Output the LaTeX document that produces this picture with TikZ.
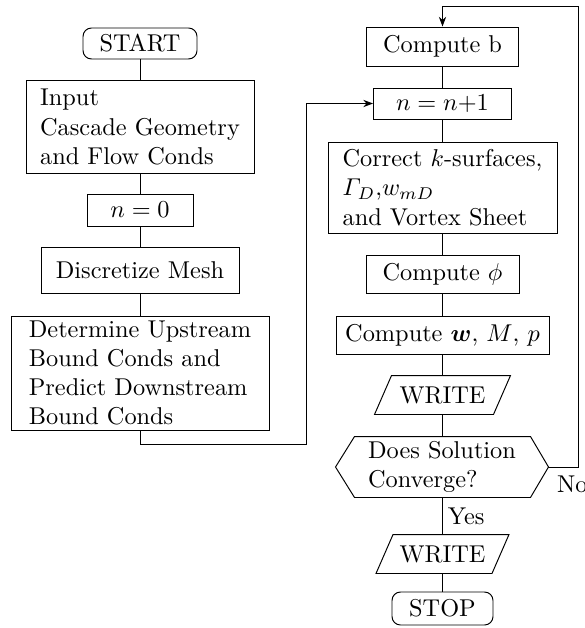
\documentclass[tikz,border=0pt]{standalone}
\usepackage{amsmath,bm}
\usetikzlibrary{arrows.meta}
\def\pxu{0.411pt}
\begin{document}
\begin{tikzpicture}[x=0.411pt,y=-0.411pt,
  box/.style={draw, inner sep=0pt, align=left},
  term/.style={draw, rounded corners=3.5pt, inner sep=0pt},
  ghost/.style={inner sep=0pt, align=left},
  arr/.style={-{Stealth[length=4pt,width=3pt]}}]
\useasboundingbox (0,0) rectangle (585,628);
% left column
\node[term, minimum width=114*\pxu, minimum height=31*\pxu] (start) at (140,43.5) {START};
\node[box, minimum width=228*\pxu, minimum height=93*\pxu] (input) at (140,127) {Input\\Cascade Geometry\\and Flow Conds};
\node[box, minimum width=106*\pxu, minimum height=32*\pxu] (n0) at (140,210) {$n=0$};
\node[box, minimum width=198*\pxu, minimum height=46*\pxu] (disc) at (140,270) {Discretize Mesh};
\node[box, minimum width=258*\pxu, minimum height=114*\pxu] (det) at (140,373) {Determine Upstream\\Bound Conds and\\Predict Downstream\\Bound Conds};
% right column
\node[box, minimum width=152*\pxu, minimum height=39*\pxu] (b) at (442.5,46.5) {Compute b};
\node[box, minimum width=138*\pxu, minimum height=31*\pxu] (n1) at (442.5,103.5) {$n=n{+}1$};
\node[box, minimum width=229*\pxu, minimum height=91*\pxu] (corr) at (442.5,187.5) {Correct $k$-surfaces,\\$\varGamma_D$,$w_{mD}$\\and Vortex Sheet};
\node[box, minimum width=153*\pxu, minimum height=38*\pxu] (phi) at (442.5,274) {Compute $\phi$};
\node[box, minimum width=213*\pxu, minimum height=38*\pxu] (wmp) at (442.5,335) {Compute $\bm{w}$, $M$, $p$};
\node[ghost, minimum width=135*\pxu, minimum height=38*\pxu] (w1) at (442.5,395) {WRITE};
\draw ([xshift=17*\pxu]w1.north west) -- (w1.north east) -- ([xshift=-17*\pxu]w1.south east) -- (w1.south west) -- cycle;
\node[ghost, minimum width=212*\pxu, minimum height=60*\pxu] (dec) at (442,467) {Does Solution\\Converge?};
\draw (dec.west) -- ([xshift=19*\pxu]dec.north west) -- ([xshift=-18*\pxu]dec.north east) -- (dec.east) -- ([xshift=-18*\pxu]dec.south east) -- ([xshift=19*\pxu]dec.south west) -- cycle;
\node[ghost, minimum width=132*\pxu, minimum height=38*\pxu] (w2) at (442.5,554) {WRITE};
\draw ([xshift=17*\pxu]w2.north west) -- (w2.north east) -- ([xshift=-17*\pxu]w2.south east) -- (w2.south west) -- cycle;
\node[term, minimum width=101*\pxu, minimum height=33*\pxu] (stop) at (442.5,608.5) {STOP};
% connectors left
\draw (start) -- (input);
\draw (input) -- (n0);
\draw (n0) -- (disc);
\draw (disc) -- (det);
\coordinate (c1) at (306,444);
\draw[arr] (det.south) |- (c1) |- (n1.west);
% connectors right
\draw (b) -- (n1);
\draw (n1) -- (corr);
\draw (corr) -- (phi);
\draw (phi) -- (wmp);
\draw (wmp) -- (w1.north);
\draw (w1.south) -- (w1.south |- dec.north);
\draw (dec.south -| w2.north) -- node[right, inner sep=2pt] {Yes} (w2.north);
\draw (w2.south) -- (stop);
\coordinate (c2) at (578,6);
\draw[arr] (dec.east) -| (c2) -| (b.north);
\node[anchor=north west] (no) at (dec.east) {No};
\end{tikzpicture}
\end{document}
